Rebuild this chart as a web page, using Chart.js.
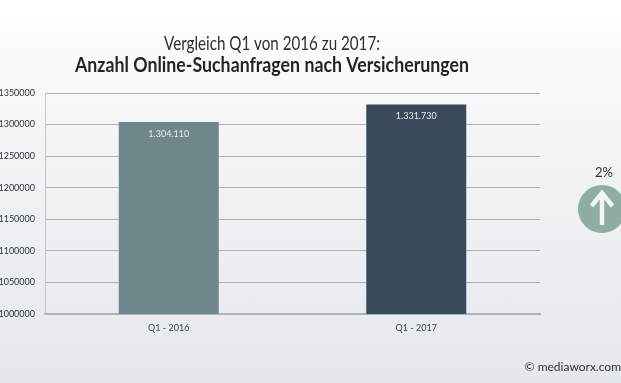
<!DOCTYPE html>
<html>
<head>
<meta charset="utf-8">
<script src="https://cdn.jsdelivr.net/npm/chart.js@4"></script>
<style>
html, body { margin: 0; padding: 0; }
body { width: 621px; height: 383px; overflow: hidden; position: relative;
       background: linear-gradient(#ffffff 0%, #f4f6f8 30%, #e4e8ed 100%); }
#wrap { position: absolute; left: 0; top: 0; width: 621px; height: 383px; }
.note { position: absolute; font-family: Lato, sans-serif; color: #333; white-space: nowrap; }
#pct { left: 584px; top: 164px; width: 40px; text-align: center; font-size: 13px; }
#copy { right: 0; top: 359px; font-size: 12px; color: #2f3338; }
#badge { position: absolute; left: 578px; top: 185px; }
</style>
</head>
<body>
<div id="wrap"><canvas id="myChart" width="621" height="383"></canvas></div>
<div class="note" id="pct">2%</div>
<svg id="badge" width="48" height="48" viewBox="0 0 48 48">
  <circle cx="24" cy="24" r="24" fill="#8fada6"/>
  <path d="M24 40 V9 M13.5 21 L24 8 L34.5 21" stroke="#f3f6f6" stroke-width="4.5" fill="none"/>
</svg>
<div class="note" id="copy">© mediaworx.com</div>

<script>
// Chart data
var categories = ['Q1 - 2016', 'Q1 - 2017'];
var values = [1304110, 1331730];
var valueLabels = ['1.304.110', '1.331.730'];
var barColors = ['#6f868b', '#3a4a59'];
var yTicks = [1000000, 1050000, 1100000, 1150000, 1200000, 1250000, 1300000, 1350000];

var titleLine = 'Vergleich Q1 von 2016 zu 2017:';
var subtitleLine = 'Anzahl Online-Suchanfragen nach Versicherungen';

// Prints the value inside each bar
const barValuePlugin = {
    id: 'barValues',
    afterDatasetsDraw(chart) {
        const ctx = chart.ctx;
        const meta = chart.getDatasetMeta(0);
        ctx.save();
        ctx.font = '9px Lato, sans-serif';
        ctx.fillStyle = '#e6ebec';
        ctx.textAlign = 'center';
        ctx.textBaseline = 'middle';
        meta.data.forEach((bar, i) => {
            ctx.fillText(valueLabels[i], bar.x, bar.y + 12);
        });
        ctx.restore();
    }
};

// Two line heading, squeezed with maxWidth since no condensed font is installed
const headingPlugin = {
    id: 'heading',
    afterDraw(chart) {
        const ctx = chart.ctx;
        ctx.save();
        ctx.textAlign = 'center';
        ctx.textBaseline = 'middle';
        ctx.fillStyle = '#2b2f33';
        ctx.font = '20px Lato, sans-serif';
        ctx.fillText(titleLine, 272, 44, 216);
        ctx.fillStyle = '#1f2429';
        ctx.font = 'bold 20px Lato, sans-serif';
        ctx.fillText(subtitleLine, 272, 66, 394);
        ctx.restore();
    }
};

new Chart(document.getElementById('myChart'), {
    type: 'bar',
    data: {
        labels: categories,
        datasets: [{
            data: values,
            backgroundColor: barColors,
            barPercentage: 0.404,
            categoryPercentage: 1,
        }],
    },
    plugins: [barValuePlugin, headingPlugin],
    options: {
        responsive: false,
        animation: false,
        layout: { padding: { left: 0, right: 81, top: 93, bottom: 0 } },
        scales: {
            x: {
                grid: { display: false },
                border: { color: '#b0b3b6', width: 2 },
                afterFit(axis) { axis.height = 69; },
                ticks: {
                    color: '#3c4248',
                    padding: 1,
                    font: { family: 'Lato, sans-serif', size: 9 },
                },
            },
            y: {
                min: 1000000,
                max: 1350000,
                afterFit(axis) { axis.width = 45; },
                afterBuildTicks(axis) { axis.ticks = yTicks.map(v => ({ value: v })); },
                grid: { color: '#b0b3b6', lineWidth: 1, drawTicks: false },
                border: { color: '#c4c7ca', width: 1 },
                ticks: {
                    color: '#2f353b',
                    padding: 10,
                    font: { family: 'Lato, sans-serif', size: 9 },
                    callback(v) { return String(v); },
                },
            },
        },
        plugins: {
            legend: { display: false },
            tooltip: { enabled: false },
        },
    },
});
</script>
</body>
</html>
